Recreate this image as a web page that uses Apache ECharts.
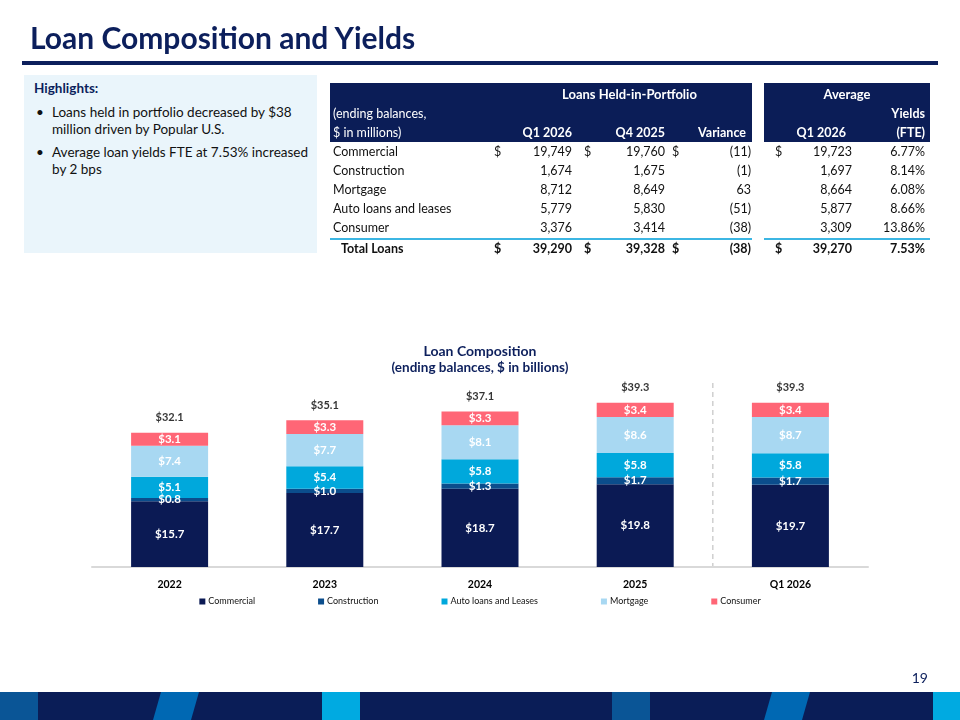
<!DOCTYPE html>
<html>
<head>
<meta charset="utf-8">
<script src="https://cdn.jsdelivr.net/npm/echarts@6/dist/echarts.min.js"></script>
<style>
  html, body { margin: 0; padding: 0; background: #fff; }
  #page { position: relative; width: 960px; height: 720px; overflow: hidden; font-family: Lato, "Noto Sans", sans-serif; }
  #chart { position: absolute; left: 0; top: 0; width: 960px; height: 720px; }
  .abs { position: absolute; white-space: nowrap; }
  .title { left: 30px; top: 19px; height: 36px; line-height: 36px; font-size: 30px; font-weight: 700; color: #0c1f5c; }
  .rule { left: 22px; top: 61px; width: 916px; height: 4px; background: #0c1f5c; }
  .hl { left: 24px; top: 75px; width: 293px; height: 178px; background: #eaf5fb; }
  .hl-h { left: 34px; top: 79px; font-size: 13.5px; font-weight: 700; color: #0c1f5c; line-height: 18px; }
  .hl-b { left: 36px; font-size: 13.5px; color: #111; line-height: 17px; }
  .hl-t { left: 52px; font-size: 13.5px; color: #111; line-height: 17px; }
  .hdr { background: #0b1d57; top: 83px; height: 59px; }
  .cell { height: 19px; line-height: 19px; font-size: 12.5px; color: #111; }
  .hcell { height: 19px; line-height: 19px; font-size: 12.5px; color: #fff; }
  .b { font-weight: 700; }
  .cyan { top: 238px; height: 2px; background: #3cb6e3; }
  .pg { left: 900px; top: 669px; width: 28px; text-align: right; font-size: 14px; color: #0c1f5c; line-height: 18px; }
  .foot { left: 0; top: 692px; width: 960px; height: 28px; background: #0a1d57; }
  .blk { top: 692px; height: 28px; }
</style>
</head>
<body>
<div id="page">
  <div id="chart"></div>
  <div id="overlay"></div>
</div>
<script>
// ---- table data (ending balances, $ in millions) ----
var rowLabels = ['Commercial', 'Construction', 'Mortgage', 'Auto loans and leases', 'Consumer'];
var q1Balances = [19749, 1674, 8712, 5779, 3376];
var q4Balances = [19760, 1675, 8649, 5830, 3414];
var variances = [-11, -1, 63, -51, -38];
var avgBalances = [19723, 1697, 8664, 5877, 3309];
var avgYields = [6.77, 8.14, 6.08, 8.66, 13.86];
var totalBalances = [39290, 39328, -38, 39270];
var totalYield = 7.53;

// ---- chart data (ending balances, $ in billions) ----
var years = ['2022', '2023', '2024', '2025', 'Q1 2026'];
var commercial = [15.7, 17.7, 18.7, 19.8, 19.7];
var construction = [0.8, 1.0, 1.3, 1.7, 1.7];
var autoLeases = [5.1, 5.4, 5.8, 5.8, 5.8];
var mortgage = [7.4, 7.7, 8.1, 8.6, 8.7];
var consumer = [3.1, 3.3, 3.3, 3.4, 3.4];
var totals = [32.1, 35.1, 37.1, 39.3, 39.3];

var highlights = [
  ['Loans held in portfolio decreased by $38', 'million driven by Popular U.S.'],
  ['Average loan yields FTE at 7.53% increased', 'by 2 bps']
];

function fmt(n) {
  var s = Math.abs(n).toLocaleString('en-US');
  return n < 0 ? '(' + s + ')' : s;
}

var html = [];
function put(cls, css, text) {
  html.push('<div class="abs ' + cls + '" style="' + css + '">' + text + '</div>');
}

// slide chrome
put('title', '', 'Loan Composition and Yields');
put('rule', '', '');
put('hl', '', '');
put('hl-h', '', 'Highlights:');
var hy = [104, 144];
highlights.forEach(function (lines, i) {
  put('hl-b', 'top:' + hy[i] + 'px', '&bull;');
  lines.forEach(function (ln, j) {
    put('hl-t', 'top:' + (hy[i] + j * 17) + 'px', ln);
  });
});

// table header boxes
put('hdr', 'left:330px;width:422px', '');
put('hdr', 'left:764px;width:166px', '');
put('hcell b', 'left:562px;top:85px;font-size:13px', 'Loans Held-in-Portfolio');
put('hcell', 'left:333px;top:104px', '(ending balances,');
put('hcell', 'left:333px;top:123px', '$ in millions)');
put('hcell b', 'left:480px;width:92px;top:123px;text-align:right', 'Q1 2026');
put('hcell b', 'left:573px;width:92px;top:123px;text-align:right', 'Q4 2025');
put('hcell b', 'left:660px;width:86px;top:123px;text-align:right', 'Variance');
put('hcell b', 'left:764px;width:166px;top:85px;text-align:center;font-size:13px', 'Average');
put('hcell b', 'left:850px;width:75px;top:104px;text-align:right', 'Yields');
put('hcell b', 'left:780px;width:66px;top:123px;text-align:right', 'Q1 2026');
put('hcell b', 'left:850px;width:75px;top:123px;text-align:right', '(FTE)');

function row(y, label, vals, yld, bold, dollars) {
  var c = 'cell' + (bold ? ' b' : '');
  put(c, 'left:' + (bold ? 341 : 333) + 'px;top:' + y + 'px', label);
  if (dollars) {
    put(c, 'left:494px;top:' + y + 'px', '$');
    put(c, 'left:584px;top:' + y + 'px', '$');
    put(c, 'left:672px;top:' + y + 'px', '$');
    put(c, 'left:775px;top:' + y + 'px', '$');
  }
  put(c, 'left:480px;width:92px;top:' + y + 'px;text-align:right', fmt(vals[0]));
  put(c, 'left:573px;width:92px;top:' + y + 'px;text-align:right', fmt(vals[1]));
  put(c, 'left:660px;width:91px;top:' + y + 'px;text-align:right', fmt(vals[2]));
  put(c, 'left:780px;width:72px;top:' + y + 'px;text-align:right', fmt(vals[3]));
  put(c, 'left:850px;width:75px;top:' + y + 'px;text-align:right', yld.toFixed(2) + '%');
}
rowLabels.forEach(function (lab, i) {
  row(142 + i * 19, lab, [q1Balances[i], q4Balances[i], variances[i], avgBalances[i]], avgYields[i], false, i === 0);
});
put('cyan', 'left:330px;width:422px', '');
put('cyan', 'left:764px;width:166px', '');
row(239, 'Total Loans', totalBalances, totalYield, true, true);

// footer
put('pg', '', '19');
put('foot', '', '');
put('blk', 'left:0;width:38px;background:#0a5596', '');
put('blk', 'left:153px;width:46px;background:#0068b3;clip-path:polygon(8px 0,46px 0,38px 100%,0 100%)', '');
put('blk', 'left:322px;width:38px;background:#00aae1', '');
put('blk', 'left:612px;width:38px;background:#0a5596', '');
put('blk', 'left:764px;width:46px;background:#0068b3;clip-path:polygon(8px 0,46px 0,38px 100%,0 100%)', '');
put('blk', 'left:933px;width:27px;background:#00aae1', '');
document.getElementById('overlay').innerHTML = html.join('');

// ---- chart ----
var myChart = echarts.init(document.getElementById('chart'));
var segLabel = {
  show: true,
  position: 'inside',
  color: '#fff',
  fontWeight: 'bold',
  fontSize: 11.5,
  fontFamily: 'Lato',
  formatter: function (p) { return '$' + p.value.toFixed(1); }
};
function seg(name, data, color) {
  return {
    name: name,
    type: 'bar',
    stack: 'loans',
    barWidth: 77,
    data: data,
    itemStyle: { color: color },
    label: segLabel
  };
}
var option = {
  animation: false,
  textStyle: { fontFamily: 'Lato' },
  title: {
    text: 'Loan Composition',
    subtext: '(ending balances, $ in billions)',
    left: 'center',
    top: 339,
    itemGap: 3,
    textStyle: { fontSize: 14, fontWeight: 'bold', color: '#0c1f5c', fontFamily: 'Lato' },
    subtextStyle: { fontSize: 13.5, fontWeight: 'bold', color: '#0c1f5c', fontFamily: 'Lato' }
  },
  legend: {
    data: ['Commercial', 'Construction', 'Auto loans and Leases', 'Mortgage', 'Consumer'],
    top: 592,
    left: 'center',
    icon: 'rect',
    itemWidth: 6,
    itemHeight: 6,
    itemGap: 63,
    textStyle: { fontSize: 9, color: '#111', fontFamily: 'Lato', padding: [0, 0, 0, -2] }
  },
  grid: { left: 92, right: 92, top: 358, bottom: 153 },
  xAxis: {
    type: 'category',
    data: years,
    axisLine: { lineStyle: { color: '#d9d9d9', width: 2 } },
    axisTick: { show: false },
    axisLabel: { color: '#000', fontWeight: 'bold', fontSize: 10.5, margin: 12 }
  },
  yAxis: { type: 'value', min: 0, max: 50, show: false, splitLine: { show: false } },
  series: [
    seg('Commercial', commercial, '#0b1a54'),
    seg('Construction', construction, '#0b4d8c'),
    seg('Auto loans and Leases', autoLeases, '#00a8dc'),
    seg('Mortgage', mortgage, '#a8d8f2'),
    seg('Consumer', consumer, '#ff6676'),
    {
      name: 'Total',
      type: 'scatter',
      data: totals,
      symbolSize: 1,
      itemStyle: { color: 'rgba(0,0,0,0)' },
      silent: true,
      label: {
        show: true,
        position: 'top',
        distance: 9,
        color: '#000',
        fontWeight: 'bold',
        fontSize: 11,
        formatter: function (p) { return '$' + p.value.toFixed(1); }
      }
    }
  ]
};
myChart.setOption(option);

// dashed divider between annual and quarterly bars
var xA = myChart.convertToPixel({ xAxisIndex: 0 }, '2025');
var xB = myChart.convertToPixel({ xAxisIndex: 0 }, 'Q1 2026');
var yTop = myChart.convertToPixel({ yAxisIndex: 0 }, 44);
var yBase = myChart.convertToPixel({ yAxisIndex: 0 }, 0);
myChart.setOption({
  graphic: [{
    type: 'line',
    shape: { x1: (xA + xB) / 2, y1: yTop, x2: (xA + xB) / 2, y2: yBase },
    style: { stroke: '#cfcfcf', lineWidth: 1.5, lineDash: [5, 4] },
    silent: true
  }]
});
</script>
</body>
</html>
